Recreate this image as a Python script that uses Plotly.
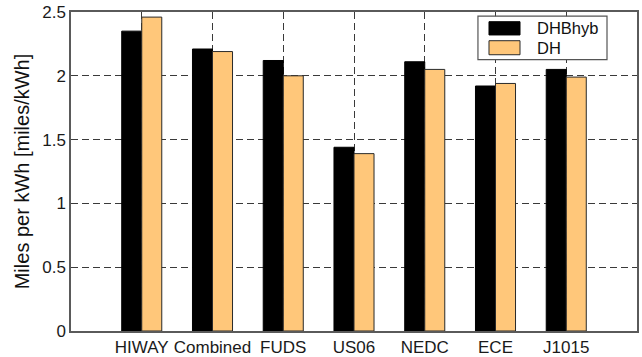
import plotly.graph_objects as go

cycles = ["HIWAY", "Combined", "FUDS", "US06", "NEDC", "ECE", "J1015"]
dhbhyb = [2.35, 2.21, 2.12, 1.44, 2.11, 1.92, 2.05]
dh = [2.46, 2.19, 2.00, 1.39, 2.05, 1.94, 1.99]
y_ticks = [0, 0.5, 1, 1.5, 2, 2.5]
y_tick_text = ["0", "0.5", "1", "1.5", "2", "2.5"]

series_names = ["DHBhyb", "DH"]
series_colors = ["#000000", "#FFC77A"]
edge_colors = ["#000000", "#2a2a2a"]

positions = list(range(1, len(cycles) + 1))
FONT = "Liberation Sans, Arial, sans-serif"

fig = go.Figure()
for name, vals, col, edge in zip(series_names, [dhbhyb, dh], series_colors, edge_colors):
    fig.add_trace(go.Bar(
        x=positions, y=vals, name=name, showlegend=False,
        marker=dict(color=col, line=dict(color=edge, width=1)),
    ))

tick_font = dict(family=FONT, size=17, color="#1a1a1a")
grid = dict(showgrid=True, gridcolor="#3a3a3a", griddash="7px,4px", gridwidth=1.2,
            showline=True, linecolor="#5a5a5a", linewidth=1.5, mirror=True,
            ticks="", zeroline=False, tickfont=tick_font, automargin=False)

# Boxed legend in the upper right corner of the axes
shapes = [dict(type="rect", xref="paper", yref="paper",
               x0=0.719, x1=0.947, y0=0.851, y1=0.987,
               fillcolor="white", line=dict(color="#555555", width=1.2), layer="above")]
annotations = []
legend_rows = [(0.9696, 0.928), (0.910, 0.866)]
for (top, bot), name, col, edge in zip(legend_rows, series_names, series_colors, edge_colors):
    shapes.append(dict(type="rect", xref="paper", yref="paper",
                       x0=0.7385, x1=0.7933, y0=bot, y1=top,
                       fillcolor=col, line=dict(color=edge, width=1), layer="above"))
    annotations.append(dict(xref="paper", yref="paper", x=0.82, y=(top + bot) / 2,
                            xanchor="left", yanchor="middle", showarrow=False,
                            text=name, font=dict(family=FONT, size=16.5, color="#111111")))

fig.update_layout(
    width=642, height=357,
    margin=dict(l=71, r=5, t=12, b=26),
    paper_bgcolor="white", plot_bgcolor="white",
    barmode="group", bargap=0.434, bargroupgap=0,
    font=dict(family=FONT),
    showlegend=False,
    shapes=shapes,
    annotations=annotations,
    xaxis=dict(range=[0, 8], tickmode="array", tickvals=positions, ticktext=cycles, **grid),
    yaxis=dict(
        range=[0, 2.5], tickmode="array", tickvals=y_ticks, ticktext=y_tick_text,
        title=dict(text="Miles per kWh [miles/kWh]",
                   font=dict(family=FONT, size=20, color="#111111"), standoff=7),
        **grid,
    ),
)

fig.write_html("out.html")
